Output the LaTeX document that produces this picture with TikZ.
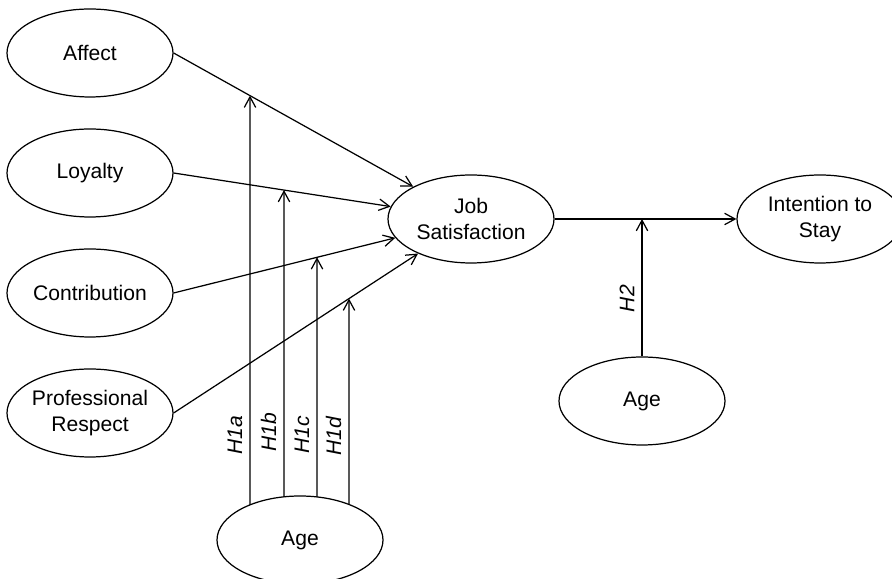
\documentclass[tikz,border=0pt]{standalone}
\usepackage{fontspec}
\setmainfont{Liberation Sans}
\usetikzlibrary{shapes.geometric,arrows.meta,intersections,positioning}

\begin{document}
\begin{tikzpicture}[
		node distance=2.4cm,
		link/.style={
			-{Straight Barb[length=6pt,width=6.5pt]},
			line width=0.7pt,
		},
		factor/.style={
			draw,
			ellipse,
			line width=0.7pt,
			minimum width=3.32cm,
			minimum height=1.76cm,
			inner sep=0pt,
			align=center,
			font=\fontsize{12}{14.5}\selectfont,
		},
		hyp/.style={
			font=\fontsize{12}{14.5}\selectfont\itshape,
			inner sep=4pt,
			rotate=90,
			anchor=south,
		},
	]
	\useasboundingbox (0,0) rectangle (17.84,11.58);

	\node [factor] (af) at (1.8,10.52) {Affect};
	\node [below of=af, factor] (lo) {Loyalty};
	\node [below of=lo, factor] (co) {Contribution};
	\node [below of=co, factor] (pr) {Professional\\Respect};
	\node [factor] (js) at (9.42,7.2) {Job\\Satisfaction};
	\node [factor] (is) at (16.4,7.2) {Intention to\\Stay};
	\node [factor, name path=rim] (age) at (6,0.78) {Age};
	\node [factor] (age2) at (12.84,3.56) {Age};

	\draw [link, name path=laf] (af.east) -> (js);
	\draw [link, name path=llo] (lo.east) -> (js);
	\draw [link, name path=lco] (co.east) -> (js);
	\draw [link, name path=lpr] (pr.east) -> (js);
	\draw [link] (js) -> (is);
	\draw [link] (age2) -- node [hyp, pos=0.42] {H2} (age2 |- js.east);

	% moderation of age on the four paths
	\foreach \dx/\tgt/\where/\txt in {-1/laf/.17/H1a, -.32/llo/.21/H1b, .34/lco/.26/H1c, .98/lpr/.33/H1d} {
		\path [name path=up] ([xshift=\dx cm]age.center) -- ++(0,12);
		\path [name intersections={of=up and rim, by=foot}];
		\path [name intersections={of=up and \tgt, by=head}];
		\draw [link] (foot) -- node [hyp, pos=\where] {\txt} (head);
	}

\end{tikzpicture}
\end{document}
